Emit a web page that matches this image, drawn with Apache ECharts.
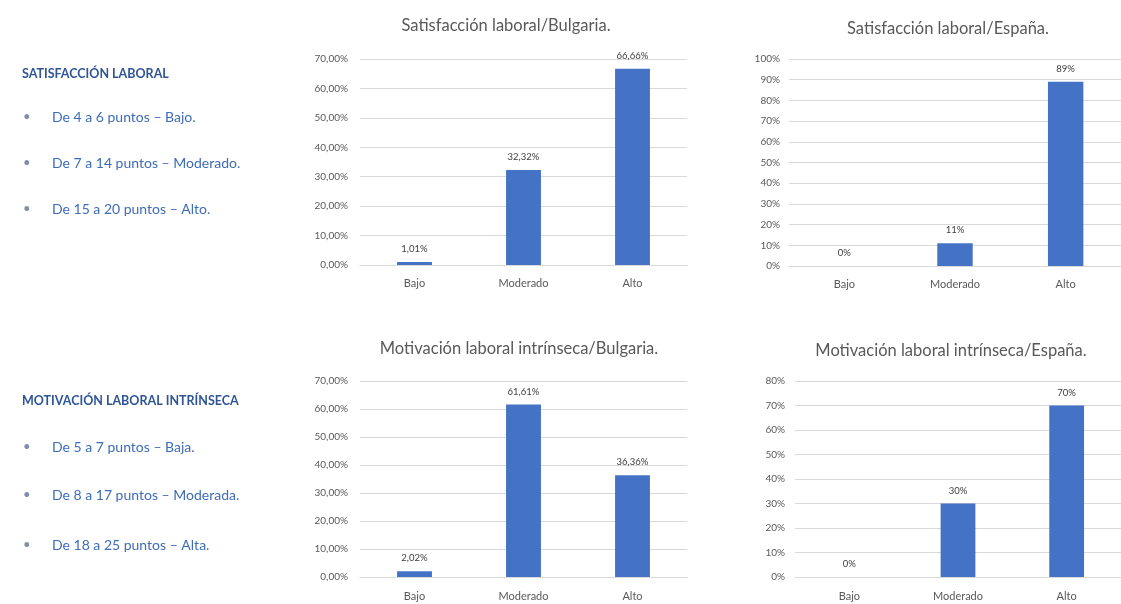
<!DOCTYPE html>
<html>
<head>
<meta charset="utf-8">
<script src="https://cdn.jsdelivr.net/npm/echarts@6/dist/echarts.min.js"></script>
<style>
html,body{margin:0;padding:0;background:#fff;}
#c{width:1121px;height:604px;}
</style>
</head>
<body>
<div id="c"></div>
<script>
// ---- data ----
var categories = ['Bajo', 'Moderado', 'Alto'];
var satBulgaria = [1.01, 32.32, 66.66];
var satEspana = [0, 11, 89];
var motBulgaria = [2.02, 61.61, 36.36];
var motEspana = [0, 30, 70];
var chartTitles = [
  'Satisfacción laboral/Bulgaria.',
  'Satisfacción laboral/España.',
  'Motivación laboral intrínseca/Bulgaria.',
  'Motivación laboral intrínseca/España.'
];
var axisMax = [70, 100, 70, 80];
var decimals = [2, 0, 2, 0];
var legendHeads = ['SATISFACCIÓN LABORAL', 'MOTIVACIÓN LABORAL INTRÍNSECA'];
var satRanges = ['De 4 a 6 puntos – Bajo.', 'De 7 a 14 puntos – Moderado.', 'De 15 a 20 puntos – Alto.'];
var motRanges = ['De 5 a 7 puntos – Baja.', 'De 8 a 17 puntos – Moderada.', 'De 18 a 25 puntos – Alta.'];

var seriesData = [satBulgaria, satEspana, motBulgaria, motEspana];

// ---- layout ----
var FONT = 'Lato, "Open Sans", sans-serif';
var grids = [
  {left: 360, top: 59, width: 327, height: 206},
  {left: 789, top: 59, width: 342, height: 207},
  {left: 360, top: 381, width: 327, height: 196},
  {left: 795, top: 381, width: 334, height: 196}
];
var titlePos = [
  {x: 501, y: 12},
  {x: 943, y: 15},
  {x: 514, y: 335},
  {x: 946, y: 337}
];
var yLabelMargin = [12, 9, 12, 10];
var xLabelMargin = [13, 13, 14, 14];

function fmt(v, d) {
  return v.toFixed(d).replace('.', ',') + '%';
}

var option = {
  backgroundColor: '#ffffff',
  animation: false,
  title: chartTitles.map(function (t, i) {
    return {
      text: t,
      left: titlePos[i].x,
      top: titlePos[i].y,
      textAlign: 'center',
      textStyle: {fontFamily: FONT, fontSize: 16.5, fontWeight: 'normal', color: '#595959'}
    };
  }),
  grid: grids,
  xAxis: grids.map(function (g, i) {
    return {
      type: 'category',
      gridIndex: i,
      data: categories,
      axisLine: {lineStyle: {color: '#d9d9d9'}},
      axisTick: {show: false},
      axisLabel: {fontFamily: FONT, fontSize: 11, color: '#595959', margin: xLabelMargin[i]}
    };
  }),
  yAxis: grids.map(function (g, i) {
    return {
      type: 'value',
      gridIndex: i,
      min: 0,
      max: axisMax[i],
      interval: 10,
      axisLine: {show: false},
      axisTick: {show: false},
      splitLine: {lineStyle: {color: '#d9d9d9'}},
      axisLabel: {
        fontFamily: FONT, fontSize: 10, color: '#595959', margin: yLabelMargin[i],
        formatter: (function (d) { return function (v) { return fmt(v, d); }; })(decimals[i])
      }
    };
  }),
  series: seriesData.map(function (data, i) {
    return {
      type: 'bar',
      xAxisIndex: i,
      yAxisIndex: i,
      data: data,
      barWidth: '32%',
      itemStyle: {color: '#4472c4'},
      label: {
        show: true,
        position: 'top',
        distance: 8,
        fontFamily: FONT,
        fontSize: 9.5,
        color: '#404040',
        formatter: (function (d) { return function (p) { return fmt(p.value, d); }; })(decimals[i])
      }
    };
  }),
  graphic: []
};

function addBlock(head, items, headY, itemYs) {
  option.graphic.push({
    type: 'text', left: 22, top: headY - 8,
    style: {text: head, fontFamily: FONT, fontSize: 12.5, fontWeight: 'bold', fill: '#2f5597'}
  });
  items.forEach(function (t, k) {
    option.graphic.push({
      type: 'text', left: 23, top: itemYs[k] - 9,
      style: {text: '•', fontFamily: FONT, fontSize: 13, fill: '#7f8fa9'}
    });
    option.graphic.push({
      type: 'text', left: 52, top: itemYs[k] - 9,
      style: {text: t, fontFamily: FONT, fontSize: 14, fill: '#3d6cb9'}
    });
  });
}
addBlock(legendHeads[0], satRanges, 75, [119, 165, 211]);
addBlock(legendHeads[1], motRanges, 402, [449, 497, 547]);

var chart = echarts.init(document.getElementById('c'), null, {renderer: 'canvas'});
chart.setOption(option);
</script>
</body>
</html>
